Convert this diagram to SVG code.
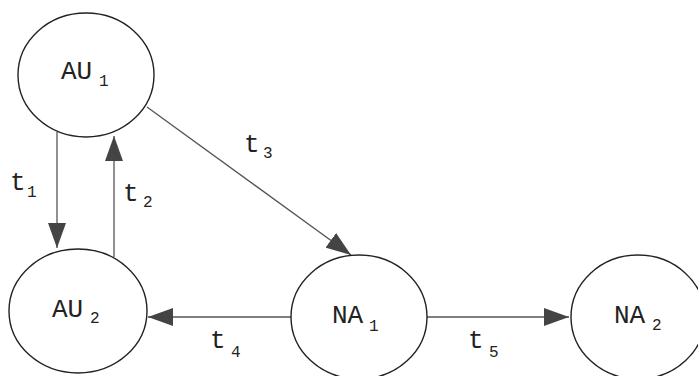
<svg xmlns="http://www.w3.org/2000/svg" width="698" height="376" viewBox="0 0 698 376">
<style>
.node{fill:#fff;stroke:#222;stroke-width:1.4}
.edge{stroke:#555;stroke-width:1.3;fill:none}
.lbl{font-family:"Liberation Mono",monospace;font-size:26px;fill:#222}
.sub{font-size:16px}
</style>
<defs>
<marker id="ah" markerUnits="userSpaceOnUse" markerWidth="26" markerHeight="18" refX="25" refY="9" orient="auto">
<path d="M0,0 L25,9 L0,18 z" fill="#444"/>
</marker>
</defs>
<rect width="698" height="376" fill="#fff"/>
<g id="connectors">
<line class="edge" x1="57" y1="132" x2="57" y2="248" marker-end="url(#ah)"/>
<line class="edge" x1="114" y1="257" x2="114" y2="136" marker-end="url(#ah)"/>
<line class="edge" x1="147" y1="107" x2="351" y2="255" marker-end="url(#ah)"/>
<line class="edge" x1="291" y1="317" x2="148" y2="317" marker-end="url(#ah)"/>
<line class="edge" x1="427" y1="317" x2="569" y2="317" marker-end="url(#ah)"/>
<text class="lbl" x="10" y="190">t<tspan class="sub" x="27" y="197">1</tspan></text>
<text class="lbl" x="123" y="201">t<tspan class="sub" x="143" y="207">2</tspan></text>
<text class="lbl" x="244" y="152">t<tspan class="sub" x="263" y="158">3</tspan></text>
<text class="lbl" x="210" y="348">t<tspan class="sub" x="231" y="357">4</tspan></text>
<text class="lbl" x="468" y="348">t<tspan class="sub" x="489" y="357">5</tspan></text>
</g>
<g id="AU1">
<ellipse class="node" cx="86" cy="75" rx="68" ry="62"/>
<text class="lbl" x="61" y="79">AU<tspan class="sub" x="99" y="86">1</tspan></text>
</g>
<g id="AU2">
<ellipse class="node" cx="78" cy="311" rx="69" ry="62"/>
<text class="lbl" x="52" y="317">AU<tspan class="sub" x="90" y="323">2</tspan></text>
</g>
<g id="NA1">
<ellipse class="node" cx="359" cy="317" rx="68" ry="62"/>
<text class="lbl" x="332" y="323">NA<tspan class="sub" x="369" y="331">1</tspan></text>
</g>
<g id="NA2">
<ellipse class="node" cx="638" cy="317" rx="67" ry="62"/>
<text class="lbl" x="614" y="323">NA<tspan class="sub" x="652" y="330">2</tspan></text>
</g>
</svg>
